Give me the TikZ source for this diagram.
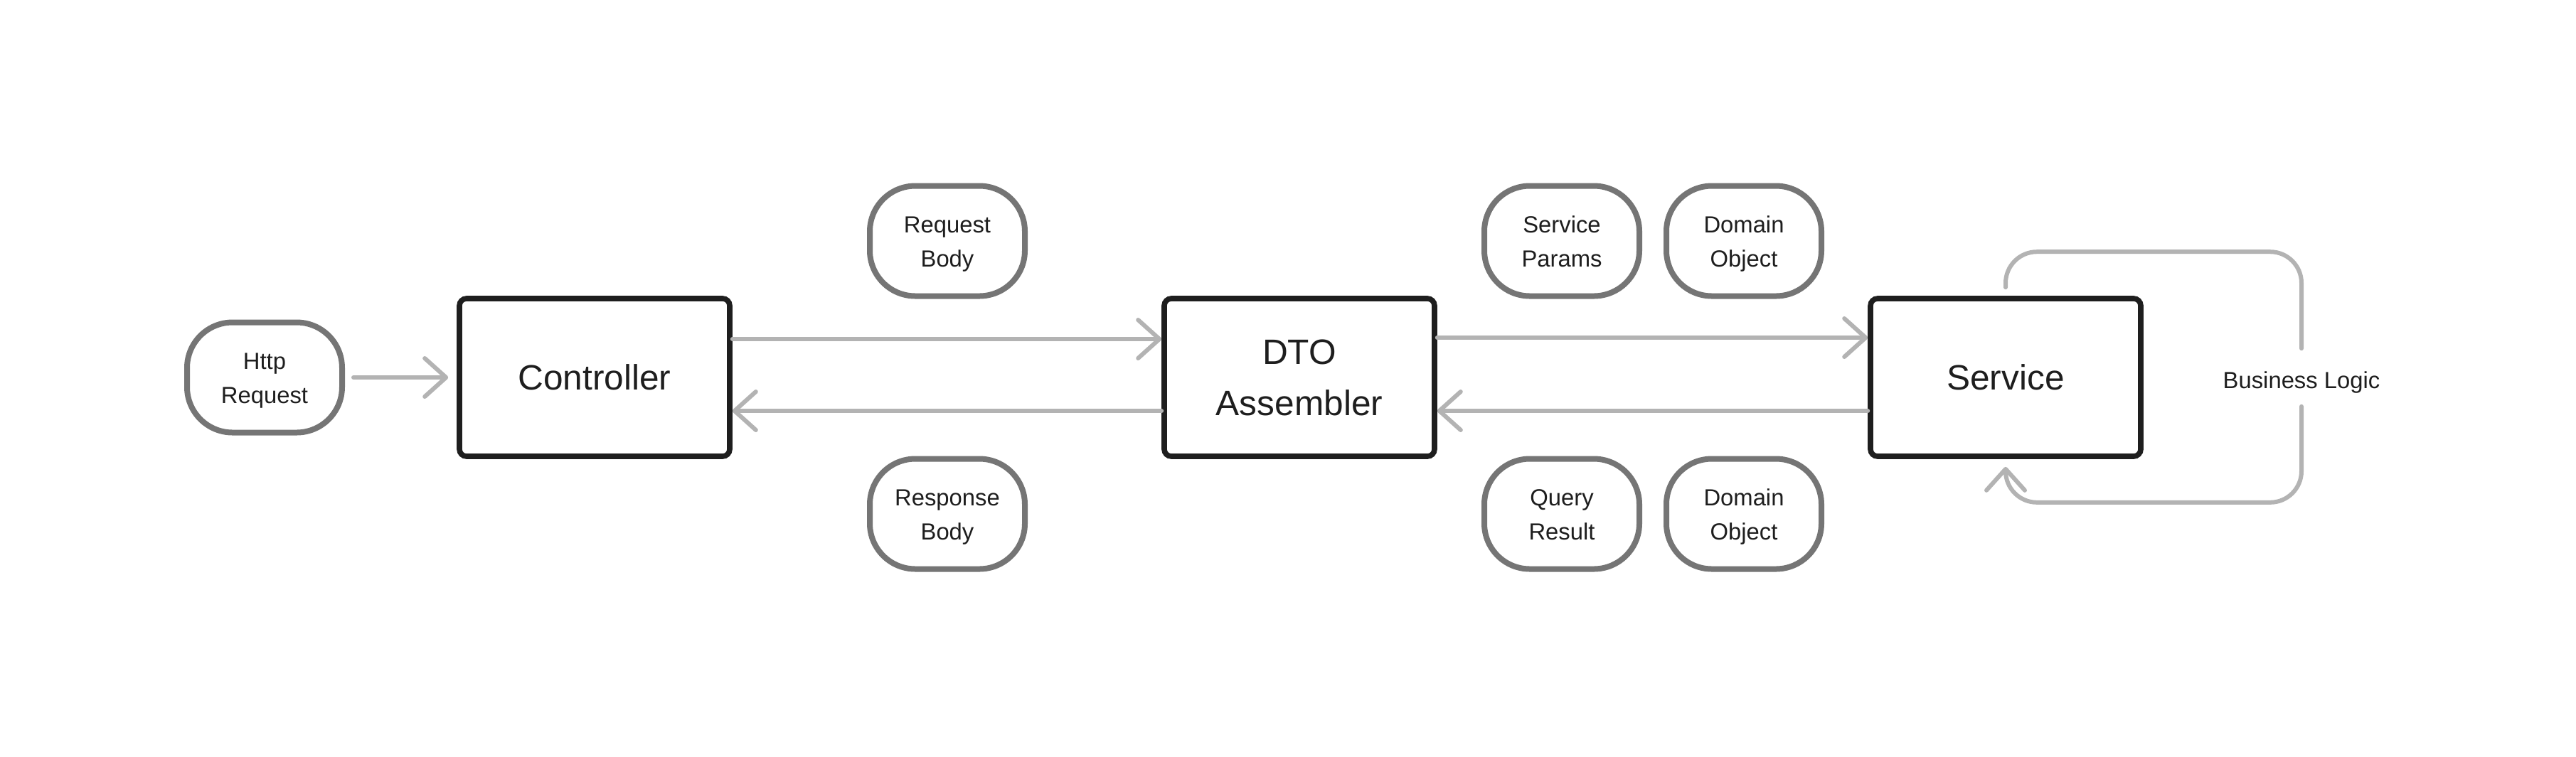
\documentclass[tikz,border=0pt]{standalone}
\usepackage{fontspec}
\setmainfont{Liberation Sans}
\usetikzlibrary{positioning, arrows.meta}

\definecolor{boxdark}{HTML}{1E1E1E}
\definecolor{pillgray}{HTML}{757575}
\definecolor{arrowgray}{HTML}{B3B3B3}

\tikzstyle{box} = [rectangle, rounded corners=2.5pt, fill = white, minimum width = 95pt, minimum height = 55.5pt, text centered, draw = boxdark, line width = 1.9pt, align=center, text = boxdark, text depth = -1.2pt, font = \fontsize{12.4pt}{18pt}\selectfont]
\tikzstyle{pill} = [rectangle, rounded corners=16pt, fill = white, minimum width = 54.5pt, minimum height = 38.75pt, text centered, draw = pillgray, line width = 2pt, align=center, text = boxdark, text height = 18.4pt, text depth = 0pt, font = \fontsize{8.2pt}{12pt}\selectfont]
\tikzstyle{label} = [inner sep = 0pt, minimum height = 20pt, text = boxdark, text height = 7.9pt, text depth = 0pt, font = \fontsize{8.2pt}{11.5pt}\selectfont]
\tikzstyle{arrow} = [line width = 1.5pt, line cap = round, -{Straight Barb[length=7.5pt, width=13.5pt, round]}, draw = arrowgray]
\tikzstyle{line} = [line width = 1.5pt, line cap = round, -, draw = arrowgray, rounded corners = 11pt]

\begin{document}
\begin{tikzpicture}[node distance = 20pt]
    \useasboundingbox (0,0) rectangle (905.5pt,-266pt);
    \node(http)[pill] at (93pt, -132.75pt) {Http\\Request};
    \node(controller)[box, right of = http, xshift = 96pt]{Controller};
    \node(dto)[box, right of = controller, xshift = 227.75pt]{DTO\\Assembler};
    \node(service)[box, right of = dto, xshift = 228.25pt]{Service};
    \node(logic)[label, right of = service, xshift = 84pt]{Business Logic};
    \node(req_body)[pill, above of = controller, xshift = 124pt, yshift = 28pt]{Request\\Body};
    \node(resp_body)[pill, below of = controller, xshift = 124pt, yshift = -28pt]{Response\\Body};
    \node(params)[pill, above of = dto, xshift = 92.25pt, yshift = 28pt]{Service\\Params};
    \node(domain_up)[pill, right of = params, xshift = 44pt]{Domain\\Object};
    \node(query)[pill, below of = dto, xshift = 92.25pt, yshift = -28pt]{Query\\Result};
    \node(domain_down)[pill, right of = query, xshift = 44pt]{Domain\\Object};
    \draw[arrow, shorten < = 3pt, shorten > = 3pt] (http) -- (controller);
    \draw[arrow] ([yshift = 13.5pt]controller.east) -- ([yshift = 13.5pt]dto.west);
    \draw[arrow] ([yshift = -11.75pt]dto.west) -- ([yshift = -11.75pt]controller.east);
    \draw[arrow] ([yshift = 14pt]dto.east) -- ([yshift = 14pt]service.west);
    \draw[arrow] ([yshift = -11.75pt]service.west) -- ([yshift = -11.75pt]dto.east);
    % loop round the service
    \draw[line] ([yshift = 3pt]service.north) |- ([yshift = 34pt]logic.north) -- (logic.north);
    \draw[line, arrow] (logic.south) -- ([yshift = -33.75pt]logic.south) -| ([yshift = -2.75pt]service.south);
\end{tikzpicture}
\end{document}
